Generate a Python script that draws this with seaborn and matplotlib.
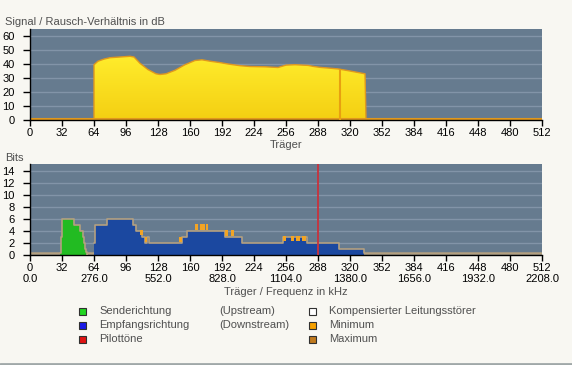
import matplotlib
matplotlib.use("Agg")
import matplotlib.pyplot as plt
from matplotlib.colors import LinearSegmentedColormap
from matplotlib.patches import Rectangle
from matplotlib.lines import Line2D
import numpy as np
import seaborn as sns

# Signal / Rausch-Verhaeltnis (Traeger, dB)
snr_carrier = [64, 64, 68, 74, 80, 90, 100, 104, 110, 118, 126, 130, 136, 145, 155, 165, 172,
               180, 190, 198, 210, 220, 235, 248, 256, 265, 278, 284, 290, 300, 308, 320, 335, 336]
snr_db = [0.6, 39.5, 42, 43.5, 44.5, 45, 45.5, 45, 40.5, 36, 33, 32.5, 33, 35.5, 39.5, 42.5, 43,
          42, 41, 40, 38.8, 38.2, 38, 37.5, 39.2, 39.5, 39, 38.2, 37.6, 37, 36.5, 35, 33, 0.6]
snr_floor = 0.6
notch_carrier = [310]
notch_db = [36.2]

# Bits pro Traeger (Stufen, jeweils ab Traeger)
up_carrier = [30, 31, 32, 44, 50, 53, 54, 55, 56, 57]
up_bits = [0.3, 3, 6, 5, 4, 3, 2, 1, 0.5, 0]
down_carrier = [64, 65, 77, 103, 106, 112, 115, 117, 119, 152, 157, 195, 212, 253, 277, 309, 334]
down_bits = [2, 5, 6, 5, 4, 3, 2, 3, 2, 3, 4, 3, 2, 3, 2, 1, 0.3]
bits_floor = 0.3

# Minimum-Markierungen
mark_start = [110, 115, 149, 165, 170, 176, 195, 201, 253, 261, 266, 272]
mark_end = [113, 117, 152, 168, 175, 178, 198, 204, 256, 264, 270, 276]
mark_low = [3.3, 2.2, 2.1, 4.1, 4.1, 4.1, 3.1, 3.1, 2.3, 2.3, 2.3, 2.3]
mark_high = [4.2, 3.0, 3.0, 5.1, 5.1, 5.1, 4.1, 4.1, 3.1, 3.1, 3.1, 3.1]

pilot_carrier = [288]

carrier_ticks = list(range(0, 513, 32))
khz_per_carrier = 4.3125
snr_ticks = list(range(0, 61, 10))
bits_ticks = list(range(0, 15, 2))

BG = "#F8F7F2"
AX_BG = "#667B8F"
GRID = "#8294A8"
TXT = "#505050"

sns.set_theme(style="white", rc={"axes.facecolor": AX_BG, "figure.facecolor": BG})
plt.rcParams["font.family"] = ["Liberation Sans", "DejaVu Sans"]

fig = plt.figure(figsize=(5.72, 3.65), dpi=100)


def px_axes(left, top, right, bottom):
    return fig.add_axes([left / 572, 1 - bottom / 365, (right - left) / 572, (bottom - top) / 365])


def style_axes(ax, ymax, yticks):
    ax.set_xlim(0, 512)
    ax.set_ylim(0, ymax)
    ax.set_xticks(carrier_ticks)
    ax.set_yticks(yticks)
    ax.yaxis.grid(True, color=GRID, lw=1)
    ax.xaxis.grid(False)
    ax.set_axisbelow(True)
    for s in ["top", "right"]:
        ax.spines[s].set_visible(False)
    for s in ["left", "bottom"]:
        ax.spines[s].set_color("black")
        ax.spines[s].set_linewidth(1)
    ax.tick_params(axis="y", left=True, length=5, width=1, color="black", pad=6,
                   labelsize=8, labelcolor="black")
    ax.tick_params(axis="x", bottom=True, length=4, width=1, color="black", pad=1.5,
                   labelsize=8, labelcolor="black")
    ax.set_ylabel("")


# ---- oberes Diagramm: SNR ----
ax1 = px_axes(30, 29, 542, 120)
sns.lineplot(x=[0, 512], y=[snr_floor, snr_floor], color="#E0981E", lw=1.5, ax=ax1,
             estimator=None, sort=False)
poly = ax1.fill_between(snr_carrier, 0, snr_db, color="none", lw=0, zorder=1.4)
cmap = LinearSegmentedColormap.from_list("snr", ["#F4CF12", "#FFEC2C"])
grad = np.linspace(0, 1, 256).reshape(-1, 1)
im = ax1.imshow(grad, extent=[0, 512, 0, max(snr_db)], origin="lower", aspect="auto",
                cmap=cmap, zorder=1.5)
im.set_clip_path(poly.get_paths()[0], transform=ax1.transData)
sns.lineplot(x=snr_carrier, y=snr_db, color="#E0981E", lw=1, ax=ax1, estimator=None, sort=False)
ax1.vlines(notch_carrier, 0, notch_db, color="#E8A010", lw=1.5, zorder=3)
style_axes(ax1, 65, snr_ticks)
ax1.set_xticklabels([str(t) for t in carrier_ticks])
ax1.set_xlabel("Träger", fontsize=8, color=TXT, labelpad=1.5)

# ---- unteres Diagramm: Bits ----
ax2 = px_axes(30, 164, 542, 255)
sns.lineplot(x=[0, 512], y=[bits_floor, bits_floor], color="#B4A080", lw=1.8, ax=ax2,
             estimator=None, sort=False)
ax2.fill_between(up_carrier, 0, up_bits, step="post", color="#22BB22", lw=0, zorder=2)
ax2.fill_between(down_carrier, 0, down_bits, step="post", color="#1B48A0", lw=0, zorder=2)
sns.lineplot(x=up_carrier, y=up_bits, drawstyle="steps-post", color="#B4A080", lw=1.2,
             ax=ax2, estimator=None, sort=False, zorder=3)
sns.lineplot(x=down_carrier, y=down_bits, drawstyle="steps-post", color="#B4A080", lw=1.2,
             ax=ax2, estimator=None, sort=False, zorder=3)
ax2.bar(mark_start, np.subtract(mark_high, mark_low), bottom=mark_low,
        width=np.subtract(mark_end, mark_start), align="edge", color="#F2A424", lw=0, zorder=4)
ax2.vlines(pilot_carrier, 0, 15.2, color="#C8323C", lw=1.3, zorder=5)
style_axes(ax2, 15.2, bits_ticks)
ax2.set_xticklabels([f"{t}\n{t * khz_per_carrier:.1f}" if t % 64 == 0 else f"{t}\n"
                     for t in carrier_ticks], linespacing=1.15)
ax2.set_xlabel("Träger / Frequenz in kHz", fontsize=8, color=TXT, labelpad=2)

fig.text(5 / 572, 1 - 22 / 365, "Signal / Rausch-Verhältnis in dB", fontsize=8, color=TXT,
         va="center", ha="left")
fig.text(5 / 572, 1 - 158 / 365, "Bits", fontsize=8, color=TXT, va="center", ha="left")

# ---- Legende ----
legend_rows = [311, 325, 339]
legend_left = [("#22D622", "Senderichtung", "(Upstream)"),
               ("#1A1AE6", "Empfangsrichtung", "(Downstream)"),
               ("#E01414", "Pilottöne", "")]
legend_right = [("#FFFFFF", "Kompensierter Leitungsstörer"),
                ("#F5A000", "Minimum"),
                ("#C07A1E", "Maximum")]


def legend_square(x, y, color):
    fig.add_artist(Rectangle(((x) / 572, 1 - (y + 3.5) / 365), 7 / 572, 7 / 365,
                             transform=fig.transFigure, facecolor=color,
                             edgecolor="#303030", lw=0.8))


for y, (col, lab, extra) in zip(legend_rows, legend_left):
    legend_square(79, y, col)
    fig.text(99 / 572, 1 - y / 365, lab, fontsize=8, color=TXT, va="center")
    if extra:
        fig.text(219 / 572, 1 - y / 365, extra, fontsize=8, color=TXT, va="center")
for y, (col, lab) in zip(legend_rows, legend_right):
    legend_square(309, y, col)
    fig.text(329 / 572, 1 - y / 365, lab, fontsize=8, color=TXT, va="center")

fig.add_artist(Line2D([0, 1], [1 - 363.5 / 365] * 2, color="#A0A8A8", lw=2,
                      transform=fig.transFigure))

fig.savefig("out.png", dpi=100, facecolor=BG)
